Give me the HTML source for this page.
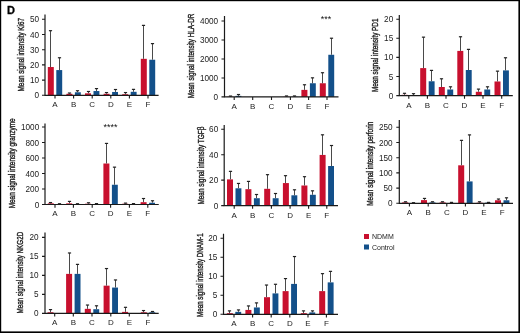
<!DOCTYPE html>
<html><head><meta charset="utf-8"><style>
html,body{margin:0;padding:0;background:#fff;}
body{width:520px;height:333px;overflow:hidden;position:relative;}
svg{position:absolute;left:0;top:0;will-change:transform;}
text{font-family:"Liberation Sans", sans-serif;fill:#222;}
.yl{font-size:8.2px;text-anchor:end;}
.xl{font-size:8px;text-anchor:middle;}
.tt{font-size:9.5px;text-anchor:middle;stroke:#222;stroke-width:0.4px;}
.lg{font-size:7px;}
.sg{font-size:9px;text-anchor:middle;fill:#111;}
.pl{font-size:11px;font-weight:bold;fill:#000;stroke:#000;stroke-width:0.3px;}
</style></head><body>
<svg width="520" height="333" viewBox="0 0 520 333">
<rect x="0" y="0" width="520" height="333" fill="#fff"/>
<rect x="47.8" y="67.03" width="6" height="28.27" fill="#c8102e"/>
<path d="M50.5 67.03V30.7" stroke="#4a4a4a" stroke-width="1" fill="none"/>
<path d="M48.9 30.7H52.1" stroke="#222" stroke-width="1.2" fill="none"/>
<rect x="56.3" y="70.07" width="5.9" height="25.23" fill="#13508a"/>
<path d="M59.5 70.07V57.76" stroke="#4a4a4a" stroke-width="1" fill="none"/>
<path d="M57.9 57.76H61.1" stroke="#222" stroke-width="1.2" fill="none"/>
<rect x="66.4" y="93.78" width="6" height="1.52" fill="#c8102e"/>
<path d="M69.5 93.78V93.02" stroke="#4a4a4a" stroke-width="1" fill="none"/>
<path d="M67.9 93.02H71.1" stroke="#222" stroke-width="1.2" fill="none"/>
<rect x="74.9" y="92.26" width="5.9" height="3.04" fill="#13508a"/>
<path d="M77.5 92.26V90.74" stroke="#4a4a4a" stroke-width="1" fill="none"/>
<path d="M75.9 90.74H79.1" stroke="#222" stroke-width="1.2" fill="none"/>
<rect x="85" y="93.32" width="6" height="1.98" fill="#c8102e"/>
<path d="M88.5 93.32V91.5" stroke="#4a4a4a" stroke-width="1" fill="none"/>
<path d="M86.9 91.5H90.1" stroke="#222" stroke-width="1.2" fill="none"/>
<rect x="93.5" y="91.04" width="5.9" height="4.26" fill="#13508a"/>
<path d="M96.5 91.04V88.61" stroke="#4a4a4a" stroke-width="1" fill="none"/>
<path d="M94.9 88.61H98.1" stroke="#222" stroke-width="1.2" fill="none"/>
<rect x="103.6" y="93.78" width="6" height="1.52" fill="#c8102e"/>
<path d="M106.5 93.78V92.56" stroke="#4a4a4a" stroke-width="1" fill="none"/>
<path d="M104.9 92.56H108.1" stroke="#222" stroke-width="1.2" fill="none"/>
<rect x="112.1" y="91.96" width="5.9" height="3.34" fill="#13508a"/>
<path d="M115.5 91.96V89.52" stroke="#4a4a4a" stroke-width="1" fill="none"/>
<path d="M113.9 89.52H117.1" stroke="#222" stroke-width="1.2" fill="none"/>
<rect x="122.2" y="94.24" width="6" height="1.06" fill="#c8102e"/>
<path d="M125.5 94.24V92.56" stroke="#4a4a4a" stroke-width="1" fill="none"/>
<path d="M123.9 92.56H127.1" stroke="#222" stroke-width="1.2" fill="none"/>
<rect x="130.7" y="91.8" width="5.9" height="3.5" fill="#13508a"/>
<path d="M133.5 91.8V89.37" stroke="#4a4a4a" stroke-width="1" fill="none"/>
<path d="M131.9 89.37H135.1" stroke="#222" stroke-width="1.2" fill="none"/>
<rect x="140.8" y="58.82" width="6" height="36.48" fill="#c8102e"/>
<path d="M143.5 58.82V25.38" stroke="#4a4a4a" stroke-width="1" fill="none"/>
<path d="M141.9 25.38H145.1" stroke="#222" stroke-width="1.2" fill="none"/>
<rect x="149.3" y="59.73" width="5.9" height="35.57" fill="#13508a"/>
<path d="M152.5 59.73V43.62" stroke="#4a4a4a" stroke-width="1" fill="none"/>
<path d="M150.9 43.62H154.1" stroke="#222" stroke-width="1.2" fill="none"/>
<path d="M45 14.5V95.3H158.6" stroke="#1a1a1a" stroke-width="1.2" fill="none"/>
<path d="M42 95.3H45M42 80.1H45M42 64.9H45M42 49.7H45M42 34.5H45M42 19.3H45M55 95.3V98.5M73.6 95.3V98.5M92.2 95.3V98.5M110.8 95.3V98.5M129.4 95.3V98.5M148 95.3V98.5" stroke="#1a1a1a" stroke-width="1.1" fill="none"/>
<text x="39.1" y="98.3" class="yl">0</text>
<text x="39.1" y="83.1" class="yl">10</text>
<text x="39.1" y="67.9" class="yl">20</text>
<text x="39.1" y="52.7" class="yl">30</text>
<text x="39.1" y="37.5" class="yl">40</text>
<text x="39.1" y="22.3" class="yl">50</text>
<text x="55" y="107.2" class="xl">A</text>
<text x="73.6" y="107.2" class="xl">B</text>
<text x="92.2" y="107.2" class="xl">C</text>
<text x="110.8" y="107.2" class="xl">D</text>
<text x="129.4" y="107.2" class="xl">E</text>
<text x="148" y="107.2" class="xl">F</text>
<text transform="translate(24 54.7) rotate(-90)" class="tt" textLength="73.4" lengthAdjust="spacingAndGlyphs">Mean signal intensity Ki67</text>
<rect x="227" y="96.71" width="6" height="0.19" fill="#c8102e"/>
<path d="M230.5 96.71V96.05" stroke="#4a4a4a" stroke-width="1" fill="none"/>
<path d="M228.9 96.05H232.1" stroke="#222" stroke-width="1.2" fill="none"/>
<rect x="235.5" y="95.86" width="5.9" height="1.04" fill="#13508a"/>
<path d="M238.5 95.86V94.53" stroke="#4a4a4a" stroke-width="1" fill="none"/>
<path d="M236.9 94.53H240.1" stroke="#222" stroke-width="1.2" fill="none"/>
<rect x="283.2" y="96.71" width="6" height="0.19" fill="#c8102e"/>
<path d="M286.5 96.71V95.95" stroke="#4a4a4a" stroke-width="1" fill="none"/>
<path d="M284.9 95.95H288.1" stroke="#222" stroke-width="1.2" fill="none"/>
<rect x="291.7" y="96.71" width="5.9" height="0.19" fill="#13508a"/>
<path d="M294.5 96.71V95.95" stroke="#4a4a4a" stroke-width="1" fill="none"/>
<path d="M292.9 95.95H296.1" stroke="#222" stroke-width="1.2" fill="none"/>
<rect x="301.4" y="89.88" width="6" height="7.02" fill="#c8102e"/>
<path d="M304.5 89.88V84.77" stroke="#4a4a4a" stroke-width="1" fill="none"/>
<path d="M302.9 84.77H306.1" stroke="#222" stroke-width="1.2" fill="none"/>
<rect x="309.9" y="83.25" width="5.9" height="13.65" fill="#13508a"/>
<path d="M312.5 83.25V77.85" stroke="#4a4a4a" stroke-width="1" fill="none"/>
<path d="M310.9 77.85H314.1" stroke="#222" stroke-width="1.2" fill="none"/>
<rect x="319.8" y="83.25" width="6" height="13.65" fill="#c8102e"/>
<path d="M322.5 83.25V72.73" stroke="#4a4a4a" stroke-width="1" fill="none"/>
<path d="M320.9 72.73H324.1" stroke="#222" stroke-width="1.2" fill="none"/>
<rect x="328.3" y="54.77" width="5.9" height="42.13" fill="#13508a"/>
<path d="M331.5 54.77V38.22" stroke="#4a4a4a" stroke-width="1" fill="none"/>
<path d="M329.9 38.22H333.1" stroke="#222" stroke-width="1.2" fill="none"/>
<path d="M224.5 16V96.9H338.5" stroke="#1a1a1a" stroke-width="1.2" fill="none"/>
<path d="M221.5 96.9H224.5M221.5 77.94H224.5M221.5 58.98H224.5M221.5 40.02H224.5M221.5 21.06H224.5M234.2 96.9V100.1M252.7 96.9V100.1M271.5 96.9V100.1M290.4 96.9V100.1M308.6 96.9V100.1M327 96.9V100.1" stroke="#1a1a1a" stroke-width="1.1" fill="none"/>
<text x="218.1" y="99.9" class="yl">0</text>
<text x="218.1" y="80.94" class="yl">1000</text>
<text x="218.1" y="61.98" class="yl">2000</text>
<text x="218.1" y="43.02" class="yl">3000</text>
<text x="218.1" y="24.06" class="yl">4000</text>
<text x="234.2" y="108.8" class="xl">A</text>
<text x="252.7" y="108.8" class="xl">B</text>
<text x="271.5" y="108.8" class="xl">C</text>
<text x="290.4" y="108.8" class="xl">D</text>
<text x="308.6" y="108.8" class="xl">E</text>
<text x="327" y="108.8" class="xl">F</text>
<text transform="translate(193.6 55.95) rotate(-90)" class="tt" textLength="84.6" lengthAdjust="spacingAndGlyphs">Mean signal intensity HLA-DR</text>
<text x="326" y="21.9" class="sg">***</text>
<rect x="401.6" y="94.84" width="6" height="0.76" fill="#c8102e"/>
<path d="M404.5 94.84V93.31" stroke="#4a4a4a" stroke-width="1" fill="none"/>
<path d="M402.9 93.31H406.1" stroke="#222" stroke-width="1.2" fill="none"/>
<rect x="410.1" y="95.41" width="5.9" height="0.19" fill="#13508a"/>
<path d="M413.5 95.41V93.69" stroke="#4a4a4a" stroke-width="1" fill="none"/>
<path d="M411.9 93.69H415.1" stroke="#222" stroke-width="1.2" fill="none"/>
<rect x="420.2" y="68.1" width="6" height="27.5" fill="#c8102e"/>
<path d="M423.5 68.1V37.15" stroke="#4a4a4a" stroke-width="1" fill="none"/>
<path d="M421.9 37.15H425.1" stroke="#222" stroke-width="1.2" fill="none"/>
<rect x="428.7" y="81.27" width="5.9" height="14.32" fill="#13508a"/>
<path d="M431.5 81.27V70.39" stroke="#4a4a4a" stroke-width="1" fill="none"/>
<path d="M429.9 70.39H433.1" stroke="#222" stroke-width="1.2" fill="none"/>
<rect x="438.8" y="87" width="6" height="8.59" fill="#c8102e"/>
<path d="M441.5 87V78.79" stroke="#4a4a4a" stroke-width="1" fill="none"/>
<path d="M439.9 78.79H443.1" stroke="#222" stroke-width="1.2" fill="none"/>
<rect x="447.3" y="89.49" width="5.9" height="6.11" fill="#13508a"/>
<path d="M450.5 89.49V86.81" stroke="#4a4a4a" stroke-width="1" fill="none"/>
<path d="M448.9 86.81H452.1" stroke="#222" stroke-width="1.2" fill="none"/>
<rect x="457.3" y="50.91" width="6" height="44.69" fill="#c8102e"/>
<path d="M460.5 50.91V36.77" stroke="#4a4a4a" stroke-width="1" fill="none"/>
<path d="M458.9 36.77H462.1" stroke="#222" stroke-width="1.2" fill="none"/>
<rect x="465.8" y="70.01" width="5.9" height="25.59" fill="#13508a"/>
<path d="M468.5 70.01V49.38" stroke="#4a4a4a" stroke-width="1" fill="none"/>
<path d="M466.9 49.38H470.1" stroke="#222" stroke-width="1.2" fill="none"/>
<rect x="475.8" y="91.78" width="6" height="3.82" fill="#c8102e"/>
<path d="M478.5 91.78V89.11" stroke="#4a4a4a" stroke-width="1" fill="none"/>
<path d="M476.9 89.11H480.1" stroke="#222" stroke-width="1.2" fill="none"/>
<rect x="484.3" y="89.49" width="5.9" height="6.11" fill="#13508a"/>
<path d="M487.5 89.49V86.81" stroke="#4a4a4a" stroke-width="1" fill="none"/>
<path d="M485.9 86.81H489.1" stroke="#222" stroke-width="1.2" fill="none"/>
<rect x="494.5" y="81.47" width="6" height="14.13" fill="#c8102e"/>
<path d="M497.5 81.47V71.15" stroke="#4a4a4a" stroke-width="1" fill="none"/>
<path d="M495.9 71.15H499.1" stroke="#222" stroke-width="1.2" fill="none"/>
<rect x="503" y="70.39" width="5.9" height="25.21" fill="#13508a"/>
<path d="M505.5 70.39V57.78" stroke="#4a4a4a" stroke-width="1" fill="none"/>
<path d="M503.9 57.78H507.1" stroke="#222" stroke-width="1.2" fill="none"/>
<path d="M399.3 15V95.6H512.8" stroke="#1a1a1a" stroke-width="1.2" fill="none"/>
<path d="M396.3 95.6H399.3M396.3 76.5H399.3M396.3 57.4H399.3M396.3 38.3H399.3M396.3 19.2H399.3M408.8 95.6V98.8M427.4 95.6V98.8M446 95.6V98.8M464.5 95.6V98.8M483 95.6V98.8M501.7 95.6V98.8" stroke="#1a1a1a" stroke-width="1.1" fill="none"/>
<text x="393.2" y="98.6" class="yl">0</text>
<text x="393.2" y="79.5" class="yl">5</text>
<text x="393.2" y="60.4" class="yl">10</text>
<text x="393.2" y="41.3" class="yl">15</text>
<text x="393.2" y="22.2" class="yl">20</text>
<text x="408.8" y="107.5" class="xl">A</text>
<text x="427.4" y="107.5" class="xl">B</text>
<text x="446" y="107.5" class="xl">C</text>
<text x="464.5" y="107.5" class="xl">D</text>
<text x="483" y="107.5" class="xl">E</text>
<text x="501.7" y="107.5" class="xl">F</text>
<text transform="translate(377.8 55.3) rotate(-90)" class="tt" textLength="73.6" lengthAdjust="spacingAndGlyphs">Mean signal intensity PD1</text>
<rect x="47.8" y="203.34" width="6" height="1.16" fill="#c8102e"/>
<path d="M50.5 203.34V202.56" stroke="#4a4a4a" stroke-width="1" fill="none"/>
<path d="M48.9 202.56H52.1" stroke="#222" stroke-width="1.2" fill="none"/>
<rect x="56.3" y="204.11" width="5.9" height="0.39" fill="#13508a"/>
<path d="M59.5 204.11V203.72" stroke="#4a4a4a" stroke-width="1" fill="none"/>
<path d="M57.9 203.72H61.1" stroke="#222" stroke-width="1.2" fill="none"/>
<rect x="66.2" y="203.34" width="6" height="1.16" fill="#c8102e"/>
<path d="M69.5 203.34V201.4" stroke="#4a4a4a" stroke-width="1" fill="none"/>
<path d="M67.9 201.4H71.1" stroke="#222" stroke-width="1.2" fill="none"/>
<rect x="74.7" y="204.11" width="5.9" height="0.39" fill="#13508a"/>
<path d="M77.5 204.11V203.72" stroke="#4a4a4a" stroke-width="1" fill="none"/>
<path d="M75.9 203.72H79.1" stroke="#222" stroke-width="1.2" fill="none"/>
<rect x="85" y="203.72" width="6" height="0.78" fill="#c8102e"/>
<path d="M88.5 203.72V202.79" stroke="#4a4a4a" stroke-width="1" fill="none"/>
<path d="M86.9 202.79H90.1" stroke="#222" stroke-width="1.2" fill="none"/>
<rect x="93.5" y="204.11" width="5.9" height="0.39" fill="#13508a"/>
<path d="M96.5 204.11V203.57" stroke="#4a4a4a" stroke-width="1" fill="none"/>
<path d="M94.9 203.57H98.1" stroke="#222" stroke-width="1.2" fill="none"/>
<rect x="103.4" y="163.5" width="6" height="41" fill="#c8102e"/>
<path d="M106.5 163.5V143.43" stroke="#4a4a4a" stroke-width="1" fill="none"/>
<path d="M104.9 143.43H108.1" stroke="#222" stroke-width="1.2" fill="none"/>
<rect x="111.9" y="184.74" width="5.9" height="19.76" fill="#13508a"/>
<path d="M114.5 184.74V167.15" stroke="#4a4a4a" stroke-width="1" fill="none"/>
<path d="M112.9 167.15H116.1" stroke="#222" stroke-width="1.2" fill="none"/>
<rect x="122.2" y="203.72" width="6" height="0.78" fill="#c8102e"/>
<path d="M125.5 203.72V203.1" stroke="#4a4a4a" stroke-width="1" fill="none"/>
<path d="M123.9 203.1H127.1" stroke="#222" stroke-width="1.2" fill="none"/>
<rect x="130.7" y="204.11" width="5.9" height="0.39" fill="#13508a"/>
<path d="M133.5 204.11V203.57" stroke="#4a4a4a" stroke-width="1" fill="none"/>
<path d="M131.9 203.57H135.1" stroke="#222" stroke-width="1.2" fill="none"/>
<rect x="140.6" y="202.18" width="6" height="2.33" fill="#c8102e"/>
<path d="M143.5 202.18V198.53" stroke="#4a4a4a" stroke-width="1" fill="none"/>
<path d="M141.9 198.53H145.1" stroke="#222" stroke-width="1.2" fill="none"/>
<rect x="149.1" y="202.72" width="5.9" height="1.78" fill="#13508a"/>
<path d="M152.5 202.72V200.78" stroke="#4a4a4a" stroke-width="1" fill="none"/>
<path d="M150.9 200.78H154.1" stroke="#222" stroke-width="1.2" fill="none"/>
<path d="M45 123.4V204.5H158.75" stroke="#1a1a1a" stroke-width="1.2" fill="none"/>
<path d="M42 204.5H45M42 189H45M42 173.5H45M42 158H45M42 142.5H45M42 127H45M55 204.5V207.7M73.4 204.5V207.7M92.2 204.5V207.7M110.6 204.5V207.7M129.4 204.5V207.7M147.8 204.5V207.7" stroke="#1a1a1a" stroke-width="1.1" fill="none"/>
<text x="39.2" y="207.5" class="yl">0</text>
<text x="39.2" y="192" class="yl">200</text>
<text x="39.2" y="176.5" class="yl">400</text>
<text x="39.2" y="161" class="yl">600</text>
<text x="39.2" y="145.5" class="yl">800</text>
<text x="39.2" y="130" class="yl">1000</text>
<text x="55" y="216.4" class="xl">A</text>
<text x="73.4" y="216.4" class="xl">B</text>
<text x="92.2" y="216.4" class="xl">C</text>
<text x="110.6" y="216.4" class="xl">D</text>
<text x="129.4" y="216.4" class="xl">E</text>
<text x="147.8" y="216.4" class="xl">F</text>
<text transform="translate(14.6 163.35) rotate(-90)" class="tt" textLength="90" lengthAdjust="spacingAndGlyphs">Mean signal intensity granzyme</text>
<text x="110.5" y="129.7" class="sg">****</text>
<rect x="227" y="179.38" width="6" height="26.22" fill="#c8102e"/>
<path d="M230.5 179.38V171.36" stroke="#4a4a4a" stroke-width="1" fill="none"/>
<path d="M228.9 171.36H232.1" stroke="#222" stroke-width="1.2" fill="none"/>
<rect x="235.5" y="188.29" width="5.9" height="17.31" fill="#13508a"/>
<path d="M238.5 188.29V183.45" stroke="#4a4a4a" stroke-width="1" fill="none"/>
<path d="M236.9 183.45H240.1" stroke="#222" stroke-width="1.2" fill="none"/>
<rect x="245.4" y="189.18" width="6" height="16.42" fill="#c8102e"/>
<path d="M248.5 189.18V181.41" stroke="#4a4a4a" stroke-width="1" fill="none"/>
<path d="M246.9 181.41H250.1" stroke="#222" stroke-width="1.2" fill="none"/>
<rect x="253.9" y="198.22" width="5.9" height="7.38" fill="#13508a"/>
<path d="M256.5 198.22V194.52" stroke="#4a4a4a" stroke-width="1" fill="none"/>
<path d="M254.9 194.52H258.1" stroke="#222" stroke-width="1.2" fill="none"/>
<rect x="264.2" y="188.8" width="6" height="16.8" fill="#c8102e"/>
<path d="M267.5 188.8V174.67" stroke="#4a4a4a" stroke-width="1" fill="none"/>
<path d="M265.9 174.67H269.1" stroke="#222" stroke-width="1.2" fill="none"/>
<rect x="272.7" y="198.22" width="5.9" height="7.38" fill="#13508a"/>
<path d="M275.5 198.22V193.51" stroke="#4a4a4a" stroke-width="1" fill="none"/>
<path d="M273.9 193.51H277.1" stroke="#222" stroke-width="1.2" fill="none"/>
<rect x="282.9" y="183.07" width="6" height="22.53" fill="#c8102e"/>
<path d="M285.5 183.07V175.68" stroke="#4a4a4a" stroke-width="1" fill="none"/>
<path d="M283.9 175.68H287.1" stroke="#222" stroke-width="1.2" fill="none"/>
<rect x="291.4" y="195.29" width="5.9" height="10.31" fill="#13508a"/>
<path d="M294.5 195.29V189.81" stroke="#4a4a4a" stroke-width="1" fill="none"/>
<path d="M292.9 189.81H296.1" stroke="#222" stroke-width="1.2" fill="none"/>
<rect x="301.4" y="185.49" width="6" height="20.11" fill="#c8102e"/>
<path d="M304.5 185.49V176.7" stroke="#4a4a4a" stroke-width="1" fill="none"/>
<path d="M302.9 176.7H306.1" stroke="#222" stroke-width="1.2" fill="none"/>
<rect x="309.9" y="194.78" width="5.9" height="10.82" fill="#13508a"/>
<path d="M312.5 194.78V190.83" stroke="#4a4a4a" stroke-width="1" fill="none"/>
<path d="M310.9 190.83H314.1" stroke="#222" stroke-width="1.2" fill="none"/>
<rect x="319.6" y="154.93" width="6" height="50.67" fill="#c8102e"/>
<path d="M322.5 154.93V134.82" stroke="#4a4a4a" stroke-width="1" fill="none"/>
<path d="M320.9 134.82H324.1" stroke="#222" stroke-width="1.2" fill="none"/>
<rect x="328.1" y="166.01" width="5.9" height="39.59" fill="#13508a"/>
<path d="M331.5 166.01V145.51" stroke="#4a4a4a" stroke-width="1" fill="none"/>
<path d="M329.9 145.51H333.1" stroke="#222" stroke-width="1.2" fill="none"/>
<path d="M224.2 125V205.6H338" stroke="#1a1a1a" stroke-width="1.2" fill="none"/>
<path d="M221.2 205.6H224.2M221.2 180.14H224.2M221.2 154.68H224.2M221.2 129.22H224.2M234.2 205.6V208.8M252.6 205.6V208.8M271.4 205.6V208.8M290.1 205.6V208.8M308.6 205.6V208.8M326.8 205.6V208.8" stroke="#1a1a1a" stroke-width="1.1" fill="none"/>
<text x="218.2" y="208.6" class="yl">0</text>
<text x="218.2" y="183.14" class="yl">20</text>
<text x="218.2" y="157.68" class="yl">40</text>
<text x="218.2" y="132.22" class="yl">60</text>
<text x="234.2" y="217.5" class="xl">A</text>
<text x="252.6" y="217.5" class="xl">B</text>
<text x="271.4" y="217.5" class="xl">C</text>
<text x="290.1" y="217.5" class="xl">D</text>
<text x="308.6" y="217.5" class="xl">E</text>
<text x="326.8" y="217.5" class="xl">F</text>
<text transform="translate(203.5 165.6) rotate(-90)" class="tt" textLength="77.9" lengthAdjust="spacingAndGlyphs">Mean signal intensity TGFβ</text>
<rect x="402.2" y="202.39" width="6" height="0.91" fill="#c8102e"/>
<path d="M405.5 202.39V201.78" stroke="#4a4a4a" stroke-width="1" fill="none"/>
<path d="M403.9 201.78H407.1" stroke="#222" stroke-width="1.2" fill="none"/>
<rect x="410.7" y="203" width="5.9" height="0.3" fill="#13508a"/>
<path d="M413.5 203V202.69" stroke="#4a4a4a" stroke-width="1" fill="none"/>
<path d="M411.9 202.69H415.1" stroke="#222" stroke-width="1.2" fill="none"/>
<rect x="421" y="200.11" width="6" height="3.19" fill="#c8102e"/>
<path d="M424.5 200.11V198.44" stroke="#4a4a4a" stroke-width="1" fill="none"/>
<path d="M422.9 198.44H426.1" stroke="#222" stroke-width="1.2" fill="none"/>
<rect x="429.5" y="202.39" width="5.9" height="0.91" fill="#13508a"/>
<path d="M432.5 202.39V201.78" stroke="#4a4a4a" stroke-width="1" fill="none"/>
<path d="M430.9 201.78H434.1" stroke="#222" stroke-width="1.2" fill="none"/>
<rect x="439.6" y="202.39" width="6" height="0.91" fill="#c8102e"/>
<path d="M442.5 202.39V201.78" stroke="#4a4a4a" stroke-width="1" fill="none"/>
<path d="M440.9 201.78H444.1" stroke="#222" stroke-width="1.2" fill="none"/>
<rect x="448.1" y="203" width="5.9" height="0.3" fill="#13508a"/>
<path d="M451.5 203V202.39" stroke="#4a4a4a" stroke-width="1" fill="none"/>
<path d="M449.9 202.39H453.1" stroke="#222" stroke-width="1.2" fill="none"/>
<rect x="458.2" y="165.3" width="6" height="38" fill="#c8102e"/>
<path d="M461.5 165.3V140.37" stroke="#4a4a4a" stroke-width="1" fill="none"/>
<path d="M459.9 140.37H463.1" stroke="#222" stroke-width="1.2" fill="none"/>
<rect x="466.7" y="181.41" width="5.9" height="21.89" fill="#13508a"/>
<path d="M469.5 181.41V134.9" stroke="#4a4a4a" stroke-width="1" fill="none"/>
<path d="M467.9 134.9H471.1" stroke="#222" stroke-width="1.2" fill="none"/>
<rect x="476.6" y="202.69" width="6" height="0.61" fill="#c8102e"/>
<path d="M479.5 202.69V201.78" stroke="#4a4a4a" stroke-width="1" fill="none"/>
<path d="M477.9 201.78H481.1" stroke="#222" stroke-width="1.2" fill="none"/>
<rect x="485.1" y="202.69" width="5.9" height="0.61" fill="#13508a"/>
<path d="M488.5 202.69V202.39" stroke="#4a4a4a" stroke-width="1" fill="none"/>
<path d="M486.9 202.39H490.1" stroke="#222" stroke-width="1.2" fill="none"/>
<rect x="495" y="200.26" width="6" height="3.04" fill="#c8102e"/>
<path d="M498.5 200.26V199.04" stroke="#4a4a4a" stroke-width="1" fill="none"/>
<path d="M496.9 199.04H500.1" stroke="#222" stroke-width="1.2" fill="none"/>
<rect x="503.5" y="200.26" width="5.9" height="3.04" fill="#13508a"/>
<path d="M506.5 200.26V197.83" stroke="#4a4a4a" stroke-width="1" fill="none"/>
<path d="M504.9 197.83H508.1" stroke="#222" stroke-width="1.2" fill="none"/>
<path d="M399.3 120V203.3H513" stroke="#1a1a1a" stroke-width="1.2" fill="none"/>
<path d="M396.3 203.3H399.3M396.3 188.1H399.3M396.3 172.9H399.3M396.3 157.7H399.3M396.3 142.5H399.3M396.3 127.3H399.3M409.4 203.3V206.5M428.2 203.3V206.5M446.8 203.3V206.5M465.4 203.3V206.5M483.8 203.3V206.5M502.2 203.3V206.5" stroke="#1a1a1a" stroke-width="1.1" fill="none"/>
<text x="392.6" y="206.3" class="yl">0</text>
<text x="392.6" y="191.1" class="yl">50</text>
<text x="392.6" y="175.9" class="yl">100</text>
<text x="392.6" y="160.7" class="yl">150</text>
<text x="392.6" y="145.5" class="yl">200</text>
<text x="392.6" y="130.3" class="yl">250</text>
<text x="409.4" y="215.2" class="xl">A</text>
<text x="428.2" y="215.2" class="xl">B</text>
<text x="446.8" y="215.2" class="xl">C</text>
<text x="465.4" y="215.2" class="xl">D</text>
<text x="483.8" y="215.2" class="xl">E</text>
<text x="502.2" y="215.2" class="xl">F</text>
<text transform="translate(373 163.75) rotate(-90)" class="tt" textLength="84.2" lengthAdjust="spacingAndGlyphs">Mean signal intensity perforin</text>
<rect x="47.5" y="312.26" width="6" height="1.14" fill="#c8102e"/>
<path d="M50.5 312.26V309.6" stroke="#4a4a4a" stroke-width="1" fill="none"/>
<path d="M48.9 309.6H52.1" stroke="#222" stroke-width="1.2" fill="none"/>
<rect x="66.1" y="273.88" width="6" height="39.52" fill="#c8102e"/>
<path d="M69.5 273.88V252.98" stroke="#4a4a4a" stroke-width="1" fill="none"/>
<path d="M67.9 252.98H71.1" stroke="#222" stroke-width="1.2" fill="none"/>
<rect x="74.6" y="273.88" width="5.9" height="39.52" fill="#13508a"/>
<path d="M77.5 273.88V264.38" stroke="#4a4a4a" stroke-width="1" fill="none"/>
<path d="M75.9 264.38H79.1" stroke="#222" stroke-width="1.2" fill="none"/>
<rect x="84.8" y="308.84" width="6" height="4.56" fill="#c8102e"/>
<path d="M87.5 308.84V305.04" stroke="#4a4a4a" stroke-width="1" fill="none"/>
<path d="M85.9 305.04H89.1" stroke="#222" stroke-width="1.2" fill="none"/>
<rect x="93.3" y="309.22" width="5.9" height="4.18" fill="#13508a"/>
<path d="M96.5 309.22V305.8" stroke="#4a4a4a" stroke-width="1" fill="none"/>
<path d="M94.9 305.8H98.1" stroke="#222" stroke-width="1.2" fill="none"/>
<rect x="103.6" y="285.66" width="6" height="27.74" fill="#c8102e"/>
<path d="M106.5 285.66V268.56" stroke="#4a4a4a" stroke-width="1" fill="none"/>
<path d="M104.9 268.56H108.1" stroke="#222" stroke-width="1.2" fill="none"/>
<rect x="112.1" y="287.56" width="5.9" height="25.84" fill="#13508a"/>
<path d="M115.5 287.56V279.96" stroke="#4a4a4a" stroke-width="1" fill="none"/>
<path d="M113.9 279.96H117.1" stroke="#222" stroke-width="1.2" fill="none"/>
<rect x="122.1" y="311.88" width="6" height="1.52" fill="#c8102e"/>
<path d="M125.5 311.88V307.32" stroke="#4a4a4a" stroke-width="1" fill="none"/>
<path d="M123.9 307.32H127.1" stroke="#222" stroke-width="1.2" fill="none"/>
<rect x="140.8" y="312.26" width="6" height="1.14" fill="#c8102e"/>
<path d="M143.5 312.26V310.55" stroke="#4a4a4a" stroke-width="1" fill="none"/>
<path d="M141.9 310.55H145.1" stroke="#222" stroke-width="1.2" fill="none"/>
<rect x="149.3" y="312.26" width="5.9" height="1.14" fill="#13508a"/>
<path d="M152.5 312.26V311.5" stroke="#4a4a4a" stroke-width="1" fill="none"/>
<path d="M150.9 311.5H154.1" stroke="#222" stroke-width="1.2" fill="none"/>
<path d="M45 232.4V313.4H158.7" stroke="#1a1a1a" stroke-width="1.2" fill="none"/>
<path d="M42 313.4H45M42 294.4H45M42 275.4H45M42 256.4H45M42 237.4H45M54.7 313.4V316.6M73.3 313.4V316.6M92 313.4V316.6M110.8 313.4V316.6M129.3 313.4V316.6M148 313.4V316.6" stroke="#1a1a1a" stroke-width="1.1" fill="none"/>
<text x="38.6" y="316.4" class="yl">0</text>
<text x="38.6" y="297.4" class="yl">5</text>
<text x="38.6" y="278.4" class="yl">10</text>
<text x="38.6" y="259.4" class="yl">15</text>
<text x="38.6" y="240.4" class="yl">20</text>
<text x="54.7" y="325.3" class="xl">A</text>
<text x="73.3" y="325.3" class="xl">B</text>
<text x="92" y="325.3" class="xl">C</text>
<text x="110.8" y="325.3" class="xl">D</text>
<text x="129.3" y="325.3" class="xl">E</text>
<text x="148" y="325.3" class="xl">F</text>
<text transform="translate(23 272.7) rotate(-90)" class="tt" textLength="81.7" lengthAdjust="spacingAndGlyphs">Mean signal intensity NKG2D</text>
<rect x="226.8" y="313.16" width="6" height="1.14" fill="#c8102e"/>
<path d="M229.5 313.16V310.88" stroke="#4a4a4a" stroke-width="1" fill="none"/>
<path d="M227.9 310.88H231.1" stroke="#222" stroke-width="1.2" fill="none"/>
<rect x="235.3" y="311.83" width="5.9" height="2.47" fill="#13508a"/>
<path d="M238.5 311.83V309.93" stroke="#4a4a4a" stroke-width="1" fill="none"/>
<path d="M236.9 309.93H240.1" stroke="#222" stroke-width="1.2" fill="none"/>
<rect x="245.4" y="309.93" width="6" height="4.37" fill="#c8102e"/>
<path d="M248.5 309.93V305.94" stroke="#4a4a4a" stroke-width="1" fill="none"/>
<path d="M246.9 305.94H250.1" stroke="#222" stroke-width="1.2" fill="none"/>
<rect x="253.9" y="307.46" width="5.9" height="6.84" fill="#13508a"/>
<path d="M256.5 307.46V302.9" stroke="#4a4a4a" stroke-width="1" fill="none"/>
<path d="M254.9 302.9H258.1" stroke="#222" stroke-width="1.2" fill="none"/>
<rect x="264" y="297.2" width="6" height="17.1" fill="#c8102e"/>
<path d="M266.5 297.2V285.04" stroke="#4a4a4a" stroke-width="1" fill="none"/>
<path d="M264.9 285.04H268.1" stroke="#222" stroke-width="1.2" fill="none"/>
<rect x="272.5" y="293.4" width="5.9" height="20.9" fill="#13508a"/>
<path d="M275.5 293.4V284.28" stroke="#4a4a4a" stroke-width="1" fill="none"/>
<path d="M273.9 284.28H277.1" stroke="#222" stroke-width="1.2" fill="none"/>
<rect x="282.6" y="291.12" width="6" height="23.18" fill="#c8102e"/>
<path d="M285.5 291.12V278.58" stroke="#4a4a4a" stroke-width="1" fill="none"/>
<path d="M283.9 278.58H287.1" stroke="#222" stroke-width="1.2" fill="none"/>
<rect x="291.1" y="283.9" width="5.9" height="30.4" fill="#13508a"/>
<path d="M294.5 283.9V256.54" stroke="#4a4a4a" stroke-width="1" fill="none"/>
<path d="M292.9 256.54H296.1" stroke="#222" stroke-width="1.2" fill="none"/>
<rect x="300.8" y="313.16" width="6" height="1.14" fill="#c8102e"/>
<path d="M303.5 313.16V310.88" stroke="#4a4a4a" stroke-width="1" fill="none"/>
<path d="M301.9 310.88H305.1" stroke="#222" stroke-width="1.2" fill="none"/>
<rect x="309.3" y="312.4" width="5.9" height="1.9" fill="#13508a"/>
<path d="M312.5 312.4V310.88" stroke="#4a4a4a" stroke-width="1" fill="none"/>
<path d="M310.9 310.88H314.1" stroke="#222" stroke-width="1.2" fill="none"/>
<rect x="319.2" y="291.12" width="6" height="23.18" fill="#c8102e"/>
<path d="M322.5 291.12V273.64" stroke="#4a4a4a" stroke-width="1" fill="none"/>
<path d="M320.9 273.64H324.1" stroke="#222" stroke-width="1.2" fill="none"/>
<rect x="327.7" y="282.38" width="5.9" height="31.92" fill="#13508a"/>
<path d="M330.5 282.38V271.36" stroke="#4a4a4a" stroke-width="1" fill="none"/>
<path d="M328.9 271.36H332.1" stroke="#222" stroke-width="1.2" fill="none"/>
<path d="M223.5 233.8V314.3H338" stroke="#1a1a1a" stroke-width="1.2" fill="none"/>
<path d="M220.5 314.3H223.5M220.5 295.3H223.5M220.5 276.3H223.5M220.5 257.3H223.5M220.5 238.3H223.5M234 314.3V317.5M252.6 314.3V317.5M271.2 314.3V317.5M289.8 314.3V317.5M308 314.3V317.5M326.4 314.3V317.5" stroke="#1a1a1a" stroke-width="1.1" fill="none"/>
<text x="217.4" y="317.3" class="yl">0</text>
<text x="217.4" y="298.3" class="yl">5</text>
<text x="217.4" y="279.3" class="yl">10</text>
<text x="217.4" y="260.3" class="yl">15</text>
<text x="217.4" y="241.3" class="yl">20</text>
<text x="234" y="326.2" class="xl">A</text>
<text x="252.6" y="326.2" class="xl">B</text>
<text x="271.2" y="326.2" class="xl">C</text>
<text x="289.8" y="326.2" class="xl">D</text>
<text x="308" y="326.2" class="xl">E</text>
<text x="326.4" y="326.2" class="xl">F</text>
<text transform="translate(203 275.15) rotate(-90)" class="tt" textLength="83.5" lengthAdjust="spacingAndGlyphs">Mean signal intensity DNAM-1</text>
<rect x="364" y="234" width="5" height="5" fill="#c8102e"/>
<rect x="364" y="244.5" width="5" height="5" fill="#13508a"/>
<text x="372" y="238.9" class="lg">NDMM</text>
<text x="372" y="249.5" class="lg">Control</text>
<text x="6.9" y="14.2" class="pl">D</text>
<rect x="0" y="0" width="520" height="1.2" fill="#000"/>
<rect x="0" y="0" width="1.2" height="333" fill="#000"/>
<rect x="518.4" y="0" width="1.6" height="333" fill="#000"/>
<rect x="0" y="331.4" width="520" height="1.6" fill="#000"/>
</svg>
</body></html>
